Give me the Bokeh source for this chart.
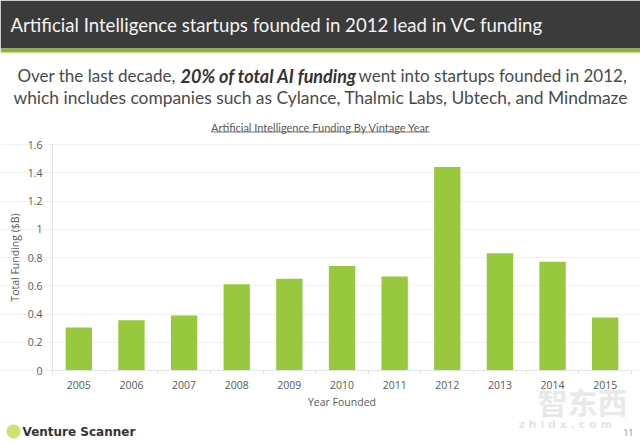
from bokeh.embed import file_html
from bokeh.models import BasicTickFormatter, BoxAnnotation, FixedTicker, Label, Range1d
from bokeh.plotting import figure
from bokeh.resources import INLINE

years = [2005, 2006, 2007, 2008, 2009, 2010, 2011, 2012, 2013, 2014, 2015]
funding = [0.305, 0.355, 0.39, 0.61, 0.65, 0.74, 0.665, 1.44, 0.83, 0.77, 0.375]
y_ticks = [0, 0.2, 0.4, 0.6, 0.8, 1, 1.2, 1.4, 1.6]
y_tick_labels = {0: "0", 0.2: "0.2", 0.4: "0.4", 0.6: "0.6", 0.8: "0.8", 1: "1", 1.2: "1.2", 1.4: "1.4", 1.6: "1.6"}

headline = "Artificial Intelligence startups founded in 2012 lead in VC funding"
chart_title = "Artificial Intelligence Funding By Vintage Year"

W = 640
H = 443
FONT = "Open Sans"
HEAD_FONT = "Lato"
BAR = "#98c83e"
TEXT = "#595959"

# the frame fills the whole canvas so the header and footer texts are not clipped,
# the ranges are stretched so that the plot itself lands at x 52-631, y 144-370
x_low, x_high = 2004.5, 2015.5
x_scale = (631 - 52) / (x_high - x_low)
y_scale = (370 - 144) / 1.6

p = figure(width=W, height=H, output_backend="svg", toolbar_location=None, tools="",
           x_range=Range1d(x_low - 52 / x_scale, x_high + (W - 631) / x_scale),
           y_range=Range1d(-(H - 370) / y_scale, 370 / y_scale),
           min_border=0, background_fill_color="white", border_fill_color="white", outline_line_color=None)

p.vbar(x=years, top=funding, width=0.5, color=BAR, line_color=None)

# year labels sit on the bars, the tick marks go between them
p.xaxis.fixed_location = 0
p.xaxis.bounds = (x_low, x_high)
p.xaxis.ticker = FixedTicker(ticks=years, minor_ticks=[y - 0.5 for y in years] + [years[-1] + 0.5])
p.xaxis.formatter = BasicTickFormatter(use_scientific=False)
p.xaxis.major_tick_line_color = None
p.xaxis.minor_tick_line_color = "#e4e4e4"
p.xaxis.minor_tick_in = 0
p.xaxis.minor_tick_out = 4
p.xaxis.axis_line_color = "#e4e4e4"
p.xaxis.major_label_standoff = 4
p.xaxis.axis_label = "Year Founded"
p.xaxis.axis_label_standoff = 3

p.yaxis.fixed_location = x_low
p.yaxis.bounds = (0, 1.6)
p.yaxis.ticker = FixedTicker(ticks=y_ticks)
p.yaxis.major_label_overrides = y_tick_labels
p.yaxis.major_tick_line_color = "#e4e4e4"
p.yaxis.major_tick_in = 0
p.yaxis.major_tick_out = 3
p.yaxis.minor_tick_line_color = None
p.yaxis.axis_line_color = "#e4e4e4"
p.yaxis.major_label_standoff = 7
p.yaxis.axis_label = "Total Funding ($B)"
p.yaxis.axis_label_standoff = 3

for ax in (p.xaxis, p.yaxis):
    ax.major_label_text_font = FONT
    ax.major_label_text_font_size = "10.5px"
    ax.major_label_text_color = TEXT
    ax.axis_label_text_font = FONT
    ax.axis_label_text_font_size = "10.5px"
    ax.axis_label_text_font_style = "normal"
    ax.axis_label_text_color = TEXT

p.xgrid.grid_line_color = None
p.ygrid.ticker = FixedTicker(ticks=y_ticks)
p.ygrid.bounds = (x_low, x_high)
p.ygrid.grid_line_color = "#f2f2f2"


def band(top, bottom, color, left=0, right=W, **kw):
    # canvas pixels, measured down from the top
    box = BoxAnnotation(left=left, right=right, top=top, bottom=bottom, fill_color=color,
                        fill_alpha=1, line_color=None, left_units="canvas", right_units="canvas",
                        top_units="canvas", bottom_units="canvas", **kw)
    p.add_layout(box)


def text(x, y, s, size, color=TEXT, font=FONT, style="normal", align="left", alpha=1.0):
    p.add_layout(Label(x=x, y=y, x_units="canvas", y_units="canvas", text=s,
                       text_font=font, text_font_size=size, text_color=color, text_font_style=style,
                       text_align=align, text_baseline="middle", text_alpha=alpha))


band(0, 48, "#3b3b3b")
band(48, 52, "#8db53c")
text(10, 24, headline, "18.6px", color="#f4f4f4", font=HEAD_FONT)

text(17, 75, "Over the last decade,", "17px", color="#4a4a4a", font=HEAD_FONT)
text(180, 75, "20% of total AI funding", "18px", color="#333333", font=HEAD_FONT, style="bold italic")
text(358, 75, "went into startups founded in 2012,", "17px", color="#4a4a4a", font=HEAD_FONT)
text(13, 97, "which includes companies such as  Cylance, Thalmic Labs, Ubtech, and Mindmaze", "17.4px",
     color="#4a4a4a", font=HEAD_FONT)

text(320, 127, chart_title, "11px", font=HEAD_FONT, align="center")
band(131, 132, "#777777", left=211, right=429)

# logo and page number
band(424, 438, "#d3df6e", left=6, right=20, border_radius=7)
text(22, 431, "Venture Scanner", "12px", color="#333333", font="DejaVu Sans", style="bold")
text(633, 432, "11", "9px", color="#888888", align="right")

# watermark
text(582, 400, "智东西", "30px", color="#e6e6e6", font="Noto Sans CJK SC", style="bold", align="center", alpha=0.85)
text(580, 424, "z  h  i  d  x  .  c  o  m", "11px", color="#e0e0e0", font="DejaVu Sans", style="bold", align="center", alpha=0.85)

open("out.html", "w").write(file_html(p, INLINE))
